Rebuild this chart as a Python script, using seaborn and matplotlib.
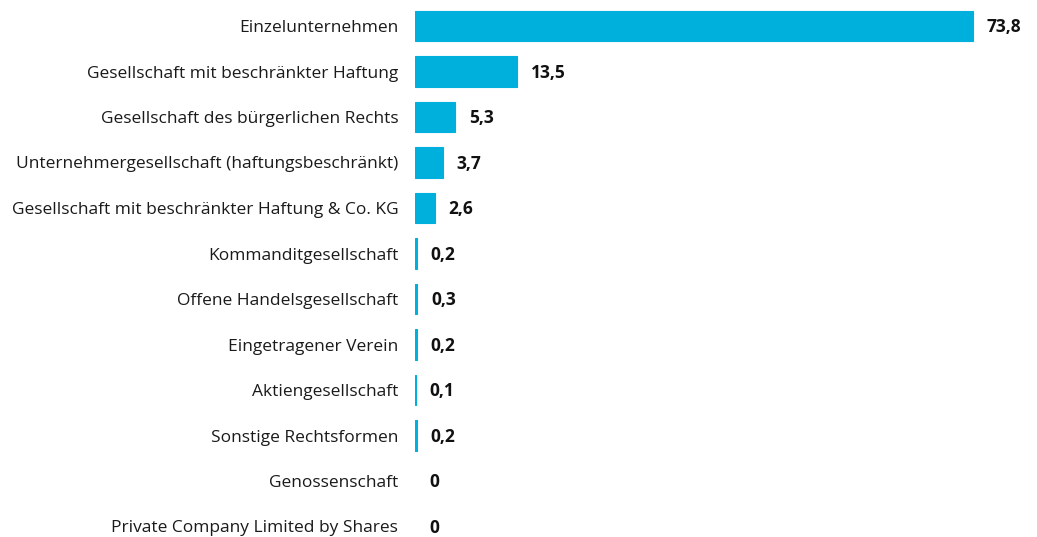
import numpy as np
import pandas as pd
from matplotlib import pyplot as plt
import seaborn as sns

categories = [
    "Einzelunternehmen",
    "Gesellschaft mit beschränkter Haftung",
    "Gesellschaft des bürgerlichen Rechts",
    "Unternehmergesellschaft (haftungsbeschränkt)",
    "Gesellschaft mit beschränkter Haftung & Co. KG",
    "Kommanditgesellschaft",
    "Offene Handelsgesellschaft",
    "Eingetragener Verein",
    "Aktiengesellschaft",
    "Sonstige Rechtsformen",
    "Genossenschaft",
    "Private Company Limited by Shares",
]
values = [73.8, 13.5, 5.3, 3.7, 2.6, 0.2, 0.3, 0.2, 0.1, 0.2, 0, 0]

df = pd.DataFrame({"Rechtsform": categories, "Anteil": values})

sns.set_style("white")
plt.rcParams['font.family'] = ['Open Sans', 'DejaVu Sans']

fig = plt.figure(figsize=(10.37, 5.37), dpi=100)
ax = fig.add_axes([415 / 1037, 0, 622 / 1037, 1])

sns.barplot(data=df, x="Anteil", y="Rechtsform", orient="h", color="#00b0dc",
            saturation=1, width=0.68, edgecolor="#00b0dc", linewidth=0.8, ax=ax)

# no visible edge for empty bars
for p in ax.patches:
    if p.get_width() == 0:
        p.set_linewidth(0)

ax.set_xlim(0, 73.8 * 622 / 558)
ax.set_ylim((537 - 26) / 45.5, -26 / 45.5)

# value labels
for i, v in enumerate(values):
    ax.annotate(f"{v:.1f}".replace(".", ",") if v else "0", (v, i),
                xytext=(10, -1), textcoords="offset points",
                ha="left", va="center", fontsize=12.5, fontweight="bold", color="#111111")

ax.set_xlabel("")
ax.set_ylabel("")
ax.set_xticks([])
ax.tick_params(axis="y", length=0, pad=12, labelsize=12.5, labelcolor="#1a1a1a")
sns.despine(ax=ax, left=True, bottom=True)

plt.savefig("out.png", dpi=100)
